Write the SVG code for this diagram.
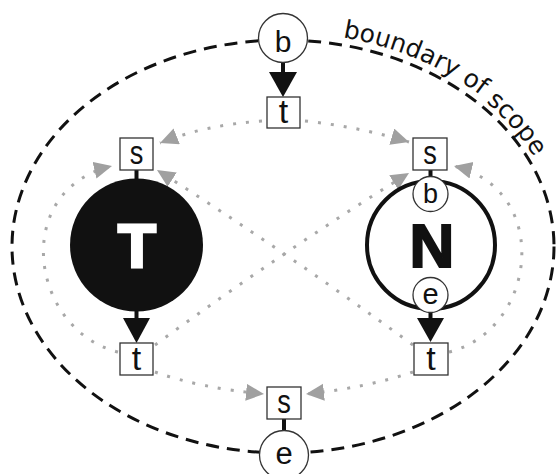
<svg xmlns="http://www.w3.org/2000/svg" width="557" height="474" viewBox="0 0 557 474">
<style>
.bnd{fill:none;stroke:#111;stroke-width:3;stroke-dasharray:13 8}
.dot{fill:none;stroke:#a8a8a8;stroke-width:3;stroke-dasharray:3 10;marker-end:url(#ga)}
.box{fill:#fff;stroke:#333;stroke-width:1.3}
.ring{fill:#fff;stroke:#333;stroke-width:1.3}
.stub{stroke:#111;stroke-width:4}
.lt{font-family:"Liberation Sans","DejaVu Sans",sans-serif;fill:#111;text-anchor:middle}
.big{font-family:"Liberation Sans","DejaVu Sans",sans-serif;font-weight:bold;text-anchor:middle;font-size:62px}
.lab{font-family:"DejaVu Sans","Liberation Sans",sans-serif;font-size:25px;fill:#111}
</style>
<defs>
<marker id="ga" markerUnits="userSpaceOnUse" markerWidth="20" markerHeight="18" refX="18" refY="8.5" orient="auto" viewBox="0 0 20 18">
<path d="M0,0 L18,8.5 L0,17 z" fill="#a0a0a0"/>
</marker>
<path id="bp" d="M 283 32.5 A 279 214 0 0 1 551.8 189.3"/>
<path id="bp2" d="M 283 34.5 A 277 212 0 0 1 549.9 189.7"/>
</defs>
<ellipse class="bnd" cx="283" cy="246.5" rx="271" ry="206.5"/>
<g id="boundary-label">
<text class="lab"><textPath href="#bp" startOffset="60">boundary of</textPath></text>
<text class="lab"><textPath href="#bp2" startOffset="218">scope</textPath></text>
</g>
<g id="connectors">
<path class="dot" d="M 262 121 Q 205 125 160 143"/>
<path class="dot" d="M 305 121 Q 360 127 409 142"/>
<path class="dot" d="M 118 352 C 30 330, 10 190, 112 166"/>
<path class="dot" d="M 449 352 C 537 330, 553 190, 454 166"/>
<path class="dot" d="M 155 345 Q 285 250 409 173"/>
<path class="dot" d="M 413 345 Q 283 250 157 170"/>
<path class="dot" d="M 155 372 Q 200 388 264 394"/>
<path class="dot" d="M 413 372 Q 365 388 306 394"/>
<line class="stub" x1="283" y1="62" x2="283" y2="74"/>
<polygon points="269,72 297,72 283,97" fill="#111"/>
<line class="stub" x1="136.5" y1="170" x2="136.5" y2="180"/>
<line class="stub" x1="136.5" y1="310" x2="136.5" y2="320"/>
<polygon points="123,318 150,318 136.5,343" fill="#111"/>
<line class="stub" x1="430.5" y1="170" x2="430.5" y2="178"/>
<line class="stub" x1="430.5" y1="310" x2="430.5" y2="320"/>
<polygon points="417,318 444,318 430.5,342" fill="#111"/>
<line class="stub" x1="284" y1="418" x2="284" y2="431"/>
</g>
<g id="top-b">
<circle class="ring" cx="283" cy="38" r="24.5"/>
<text class="lt" x="283" y="52" font-size="30">b</text>
</g>
<g id="top-t">
<rect class="box" x="267" y="97" width="33" height="31"/>
<text class="lt" x="283.5" y="123" font-size="34">t</text>
</g>
<g id="T">
<circle cx="136.5" cy="245" r="66.5" fill="#111"/>
<text class="big" x="137" y="267" fill="#fff" stroke="#fff" stroke-width="3">T</text>
</g>
<g id="T-s">
<rect class="box" x="120" y="138" width="33" height="32"/>
<text class="lt" transform="translate(136.5 164) scale(0.8 1)" font-size="34">s</text>
</g>
<g id="T-t">
<rect class="box" x="120" y="343" width="33" height="32"/>
<text class="lt" x="136.5" y="370" font-size="34">t</text>
</g>
<g id="N">
<circle cx="431" cy="245" r="64" fill="#fff" stroke="#111" stroke-width="4"/>
<text class="big" x="432" y="267" fill="#111" stroke="#111" stroke-width="2">N</text>
<circle class="ring" cx="430.5" cy="194" r="17.5"/>
<text class="lt" x="430.5" y="203" font-size="27">b</text>
<circle class="ring" cx="430.5" cy="295" r="17.5"/>
<text class="lt" x="430.5" y="304" font-size="29">e</text>
</g>
<g id="N-s">
<rect class="box" x="413" y="138" width="34" height="32"/>
<text class="lt" transform="translate(430 164) scale(0.8 1)" font-size="34">s</text>
</g>
<g id="N-t">
<rect class="box" x="414" y="343" width="34" height="32"/>
<text class="lt" x="431" y="370" font-size="34">t</text>
</g>
<g id="bottom-s">
<rect class="box" x="267" y="387" width="34" height="32"/>
<text class="lt" transform="translate(284 413) scale(0.8 1)" font-size="34">s</text>
</g>
<g id="bottom-e">
<circle class="ring" cx="284" cy="455" r="24.5"/>
<text class="lt" x="284" y="464" font-size="31">e</text>
</g>
</svg>
